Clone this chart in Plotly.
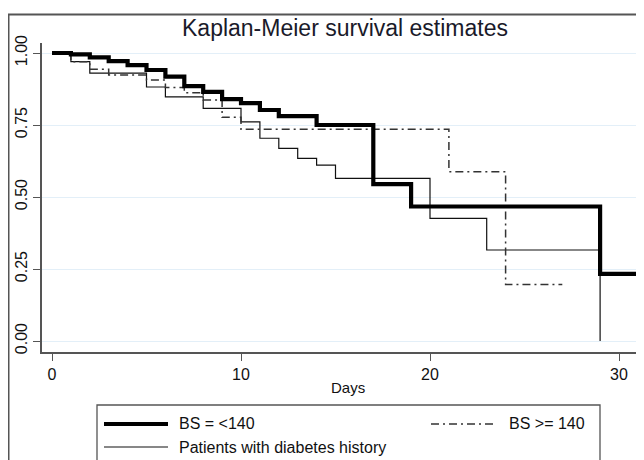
import plotly.graph_objects as go

# ---- data ----
days_bs_low = [0, 1, 2, 3, 4, 5, 6, 7, 8, 9, 10, 11, 12, 14, 17, 19, 29, 31]
surv_bs_low = [1.0, 0.995, 0.985, 0.972, 0.958, 0.941, 0.918, 0.885, 0.865, 0.84,
               0.826, 0.802, 0.781, 0.75, 0.545, 0.467, 0.233, 0.233]

days_bs_high = [0, 1, 2, 3, 5, 6, 7, 8, 9, 10, 21, 24, 27]
surv_bs_high = [1.0, 0.97, 0.944, 0.924, 0.906, 0.88, 0.862, 0.837, 0.777, 0.735,
                0.588, 0.196, 0.196]

days_diab = [0, 1, 2, 5, 6, 8, 10, 11, 12, 13, 14, 15, 20, 23, 29, 29]
surv_diab = [1.0, 0.97, 0.93, 0.882, 0.848, 0.808, 0.761, 0.704, 0.669, 0.634,
             0.611, 0.565, 0.426, 0.316, 0.316, 0.0]

x_ticks = [0, 10, 20, 30]
y_ticks = [0.0, 0.25, 0.5, 0.75, 1.0]
y_tick_labels = ["0.00", "0.25", "0.50", "0.75", "1.00"]

names = ["BS = <140", "BS >= 140", "Patients with diabetes history"]

FONT = "Liberation Sans, Arial, sans-serif"
DASHDOT = "8px,4px,2px,4px"

# the page body adds an 8px offset; target pixel positions are given in
# screenshot coordinates and shifted back by OFF
OFF = 8

fig = go.Figure()
fig.add_trace(go.Scatter(x=days_diab, y=surv_diab, mode="lines", line_shape="hv",
                         line=dict(color="#111111", width=1.2), name=names[2],
                         showlegend=False))
fig.add_trace(go.Scatter(x=days_bs_high, y=surv_bs_high, mode="lines", line_shape="hv",
                         line=dict(color="#333333", width=1.5, dash=DASHDOT),
                         name=names[1], showlegend=False))
fig.add_trace(go.Scatter(x=days_bs_low, y=surv_bs_low, mode="lines", line_shape="hv",
                         line=dict(color="#000000", width=4.2), name=names[0],
                         showlegend=False))

W, H = 644, 460
# plot area in screenshot pixels: left 42, top 43, right 652 (beyond view), bottom 352
L_S, T_S, R_S, B_S = 42, 43, 652, 352
ml, mt = L_S - OFF, T_S - OFF
mr = W - (R_S - OFF)
mb = H - (B_S - OFF)
pw, ph = W - ml - mr, H - mt - mb


def px(xs):
    return (xs - L_S) / pw


def py(ys):
    return (B_S - ys) / ph


shapes = []
# outer frame (cropped at right/bottom)
shapes.append(dict(type="rect", xref="paper", yref="paper",
                   x0=px(8.5), x1=px(720), y0=py(14.5), y1=py(540),
                   line=dict(color="#555555", width=2), fillcolor="rgba(0,0,0,0)",
                   layer="above"))
# legend box
shapes.append(dict(type="rect", xref="paper", yref="paper",
                   x0=px(97), x1=px(600), y0=py(405), y1=py(540),
                   line=dict(color="#555555", width=1.3), fillcolor="rgba(0,0,0,0)"))
# legend samples
shapes.append(dict(type="line", xref="paper", yref="paper", x0=px(104), x1=px(168),
                   y0=py(424), y1=py(424), line=dict(color="#000000", width=4.2)))
shapes.append(dict(type="line", xref="paper", yref="paper", x0=px(431), x1=px(497),
                   y0=py(424), y1=py(424), line=dict(color="#333333", width=1.5, dash=DASHDOT)))
shapes.append(dict(type="line", xref="paper", yref="paper", x0=px(104), x1=px(168),
                   y0=py(447), y1=py(447), line=dict(color="#111111", width=1.2)))

annotations = [
    dict(text=names[0], xref="paper", yref="paper", x=px(177), y=py(424),
         xanchor="left", yanchor="middle", showarrow=False,
         font=dict(family=FONT, size=16, color="#111111")),
    dict(text=names[1], xref="paper", yref="paper", x=px(507), y=py(424),
         xanchor="left", yanchor="middle", showarrow=False,
         font=dict(family=FONT, size=16, color="#111111")),
    dict(text=names[2], xref="paper", yref="paper", x=px(177), y=py(447),
         xanchor="left", yanchor="middle", showarrow=False,
         font=dict(family=FONT, size=16, color="#111111")),
    dict(text="Kaplan-Meier survival estimates", xref="paper", yref="paper",
         x=px(345), y=py(28), xanchor="center", yanchor="middle", showarrow=False,
         font=dict(family=FONT, size=23, color="#1a1a2a")),
    dict(text="Days", xref="paper", yref="paper", x=px(348), y=py(387),
         xanchor="center", yanchor="middle", showarrow=False,
         font=dict(family=FONT, size=15, color="#111111")),
]

fig.update_layout(
    width=W, height=H,
    margin=dict(l=ml, r=mr, t=mt, b=mb, autoexpand=False),
    paper_bgcolor="white", plot_bgcolor="white",
    font=dict(family=FONT, color="#111111"),
    shapes=shapes, annotations=annotations,
    showlegend=False,
)
fig.update_xaxes(range=[(L_S - 52) / 18.9, (R_S - 52) / 18.9], tickvals=x_ticks,
                 automargin=False,
                 ticks="outside", ticklen=7, tickcolor="#555555", tickwidth=1.3,
                 showline=True, linecolor="#555555", linewidth=1.6,
                 showgrid=False, zeroline=False,
                 tickfont=dict(family=FONT, size=16, color="#111111"))
fig.update_yaxes(range=[-(B_S - 341) / 288, 1 + (53 - T_S) / 288], tickvals=y_ticks,
                 ticktext=y_tick_labels, tickangle=-90, automargin=False,
                 ticks="outside", ticklen=7, tickcolor="#555555", tickwidth=1.3,
                 showline=True, linecolor="#555555", linewidth=1.6,
                 showgrid=True, gridcolor="#e3eff8", gridwidth=1.2, zeroline=False,
                 tickfont=dict(family=FONT, size=16, color="#111111"))

fig.write_html("out.html")
